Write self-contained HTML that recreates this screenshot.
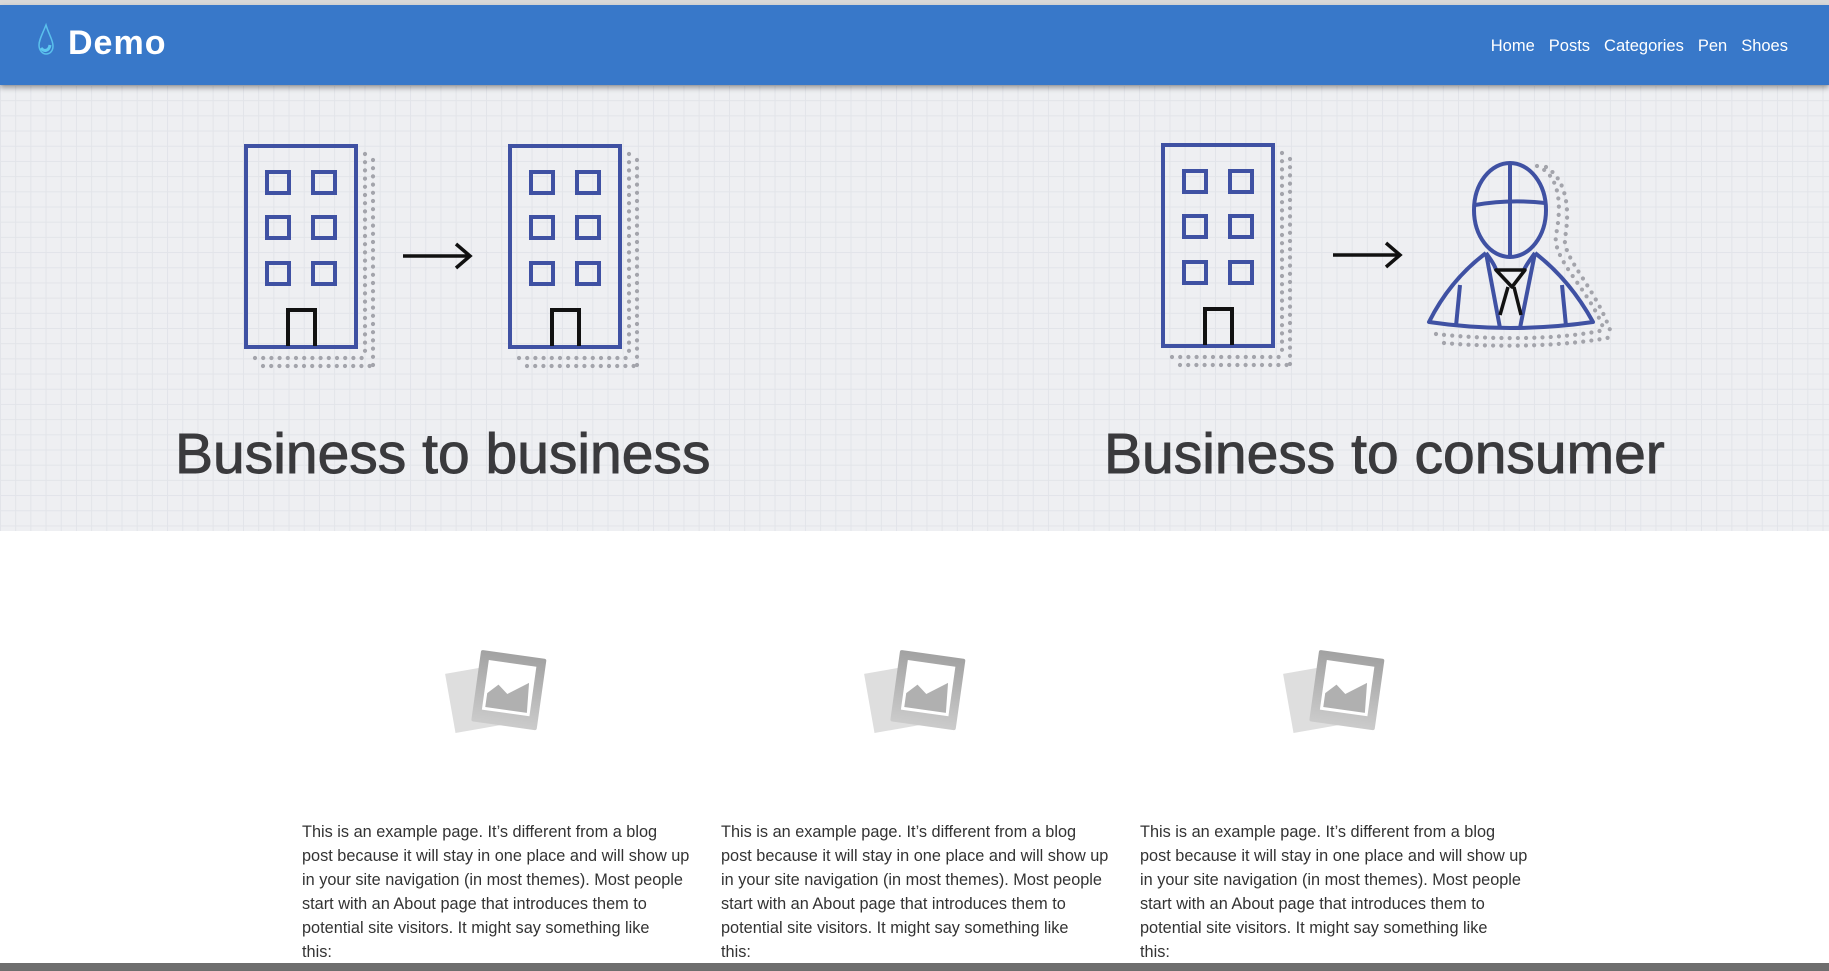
<!DOCTYPE html>
<html><head><meta charset="utf-8"><style>
*{margin:0;padding:0;box-sizing:border-box}
body{width:1829px;height:971px;overflow:hidden;background:#fff;font-family:"Liberation Sans",sans-serif;position:relative}
.top{position:absolute;left:0;top:0;width:1829px;height:5px;background:#d8d8d8}
.hdr{position:absolute;left:0;top:5px;width:1829px;height:80px;background:#3878c9;box-shadow:0 3px 5px rgba(0,0,0,.35);z-index:2}
.logo{position:absolute;left:68px;top:19px;color:#fff;font-weight:bold;font-size:34px;letter-spacing:1px}
.nav{position:absolute;right:41px;top:32px;color:#fff;font-size:16.5px}
.nav span{margin-left:14px}
.hero{position:absolute;left:0;top:85px;width:1829px;height:446px;background-color:#eeeff2;
background-image:linear-gradient(#e2e4e9 1px,transparent 1px),linear-gradient(90deg,#e2e4e9 1px,transparent 1px);background-size:15.2px 15.2px}
svg{position:absolute;left:0;top:0}
.t{position:absolute;font-size:57px;color:#3a3a3d;white-space:nowrap;top:421px;-webkit-text-stroke:0.9px #3a3a3d}
.p{position:absolute;top:820px;font-size:16.3px;line-height:24px;color:#333;white-space:nowrap}
.bar{position:absolute;left:0;top:963px;width:1829px;height:8px;background:#6e6e6e}
</style></head><body>
<div class="top"></div>
<div class="hdr"><div class="logo">Demo</div>
<svg width="30" height="40" style="left:36px;top:16px"><path d="M10 4 C6 14 3 19 3 24 C3 30 7 33 10 33 C14 33 17 30 17 25 C17 19 13 14 10 4Z" fill="none" stroke="#5ec8f0" stroke-width="1.5" opacity=".9"/><path d="M5 27 C8 31 13 30 14 24" fill="none" stroke="#5ec8f0" stroke-width="3"/></svg>
<div class="nav"><span>Home</span><span>Posts</span><span>Categories</span><span>Pen</span><span>Shoes</span></div></div>
<div class="hero"></div>
<svg width="1829" height="971" viewBox="0 0 1829 971">
<defs>
<g id="bld">
<g stroke="#a3a4ab" stroke-width="4.2" stroke-linecap="round" stroke-dasharray="0 8.2" fill="none">
<line x1="365" y1="154" x2="365" y2="358"/><line x1="373" y1="160" x2="373" y2="366"/>
<line x1="255" y1="358" x2="365" y2="358"/><line x1="263" y1="366" x2="373" y2="366"/>
</g>
<rect x="246" y="146" width="110" height="201" fill="none" stroke="#3f51a3" stroke-width="4"/>
<g fill="none" stroke="#3f51a3" stroke-width="4">
<rect x="267" y="172" width="22" height="21"/><rect x="313" y="172" width="22" height="21"/>
<rect x="267" y="217" width="22" height="21"/><rect x="313" y="217" width="22" height="21"/>
<rect x="267" y="263" width="22" height="21"/><rect x="313" y="263" width="22" height="21"/>
</g>
<path d="M288 346 V310 H315 V346" fill="none" stroke="#111" stroke-width="4"/>
</g>
<g id="arr" fill="none" stroke="#111" stroke-width="3.5"><line x1="0" y1="0" x2="66" y2="0"/><path d="M53 -12 L67 0 L53 12"/></g>
</defs>
<use href="#bld"/>
<use href="#arr" x="403" y="256"/>
<use href="#bld" x="264"/>
<use href="#bld" x="917" y="-1"/>
<use href="#arr" x="1333" y="255"/>
<g stroke="#a3a4ab" stroke-width="4.2" stroke-linecap="round" stroke-dasharray="0 8.2" fill="none">
<path d="M1537 166 C1560 175 1562 205 1556 235 C1552 260 1590 290 1604 330"/>
<path d="M1546 167 C1567 180 1570 210 1565 238 C1562 258 1598 290 1612 336"/>
<path d="M1436 334 C1490 340 1560 340 1604 330"/>
<path d="M1444 343 C1500 348 1570 346 1612 337"/>
</g>
<g fill="none" stroke="#3f51a3" stroke-width="4" stroke-linejoin="round">
<ellipse cx="1510" cy="210" rx="36" ry="47"/>
<line x1="1510" y1="163" x2="1510" y2="257"/>
<path d="M1475 205 Q1510 199 1545 203"/>
<path d="M1486 253 Q1450 280 1429 322 Q1510 334 1593 322 Q1570 280 1535 253"/>
<path d="M1486 253 L1500 328"/><path d="M1535 253 L1520 328"/>
<path d="M1460 285 L1456 326"/><path d="M1562 285 L1566 326"/>
<path d="M1486 253 Q1495 265 1496 270"/><path d="M1535 253 Q1526 265 1524 270"/>
</g>
<g fill="none" stroke="#111" stroke-width="3.5" stroke-linejoin="round">
<path d="M1496 270 L1525 270 L1512 287 Z"/>
<path d="M1508 287 L1500 315"/><path d="M1514 287 L1521 315"/>
</g>
<g id="img">
<g transform="rotate(-10 470 700)"><rect x="450" y="670" width="50" height="60" fill="#dedede"/></g>
<defs><linearGradient id="gr" x1="0" y1="0" x2="0" y2="1"><stop offset="0" stop-color="#a2a2a2"/><stop offset="1" stop-color="#cbcbcb"/></linearGradient></defs>
<g transform="rotate(8 508 689)">
<rect x="476" y="654" width="66" height="72" rx="2" fill="url(#gr)"/>
<rect x="485" y="663" width="48" height="50" fill="#fff"/>
<path d="M488 710 L488 696 L498 686 L508 694 L528 680 L530 710 Z" fill="#b0b0b0"/>
</g>
</g>
<use href="#img" x="419"/>
<use href="#img" x="838"/>
</svg>
<div class="t" style="left:175px">Business to business</div>
<div class="t" style="left:1104px">Business to consumer</div>
<div class="p" style="left:302px">This is an example page. It’s different from a blog<br>post because it will stay in one place and will show up<br>in your site navigation (in most themes). Most people<br>start with an About page that introduces them to<br>potential site visitors. It might say something like<br>this:</div>
<div class="p" style="left:721px">This is an example page. It’s different from a blog<br>post because it will stay in one place and will show up<br>in your site navigation (in most themes). Most people<br>start with an About page that introduces them to<br>potential site visitors. It might say something like<br>this:</div>
<div class="p" style="left:1140px">This is an example page. It’s different from a blog<br>post because it will stay in one place and will show up<br>in your site navigation (in most themes). Most people<br>start with an About page that introduces them to<br>potential site visitors. It might say something like<br>this:</div>
<div class="bar"></div>
</body></html>
